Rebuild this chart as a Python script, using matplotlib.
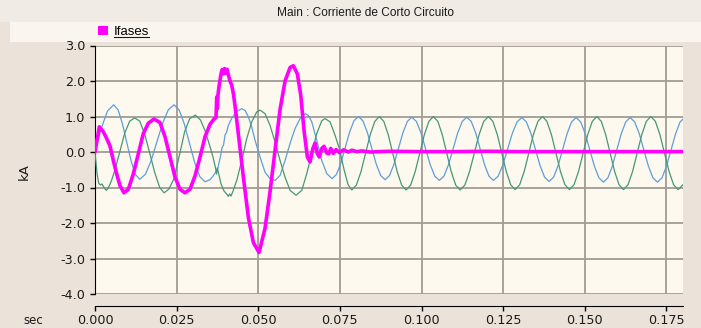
import matplotlib
matplotlib.use("Agg")
import matplotlib.pyplot as plt
from matplotlib.patches import Rectangle, Patch
from matplotlib.lines import Line2D

# ---- data -----------------------------------------------------------------
title = "Main : Corriente de Corto Circuito"
series_name = "Ifases"

x_ticks = [0.0, 0.025, 0.05, 0.075, 0.1, 0.125, 0.15, 0.175]
x_tick_labels = ["0.000", "0.025", "0.050", "0.075", "0.100", "0.125", "0.150", "0.175"]
y_ticks = [3.0, 2.0, 1.0, 0.0, -1.0, -2.0, -3.0, -4.0]
y_tick_labels = ["3.0", "2.0", "1.0", "0.0", "-1.0", "-2.0", "-3.0", "-4.0"]

# fault current (kA)
t_ifases = [0.0, 0.00132, 0.00254, 0.00358, 0.0046, 0.00561, 0.00665, 0.00766, 0.00888, 0.0102,
            0.01173, 0.01327, 0.0148, 0.01633, 0.01808, 0.01991, 0.02145, 0.02298, 0.02451, 0.02604,
            0.02757, 0.0291, 0.03064, 0.03217, 0.0337, 0.03523, 0.03646, 0.03707, 0.03728, 0.03747,
            0.03768, 0.03799, 0.0386, 0.03891, 0.03937, 0.03967, 0.04013, 0.04044, 0.0409, 0.04136,
            0.04188, 0.04237, 0.04289, 0.04366, 0.04442, 0.04543, 0.04697, 0.0485, 0.05024, 0.05208,
            0.05361, 0.05515, 0.05668, 0.05821, 0.05974, 0.06075, 0.06198, 0.06302, 0.06403, 0.06504,
            0.06587, 0.0667, 0.0674, 0.06811, 0.06872, 0.06945, 0.07016, 0.07099, 0.0716, 0.07221,
            0.07301, 0.07384, 0.07485, 0.07607, 0.07761, 0.07865, 0.08018, 0.08171, 0.08425, 0.09,
            0.1, 0.11, 0.12, 0.13, 0.14, 0.15, 0.16, 0.17, 0.18]
i_ifases = [0.0, 0.71, 0.57, 0.38, 0.17, -0.24, -0.62, -0.95, -1.15, -1.05,
            -0.62, -0.05, 0.52, 0.81, 0.93, 0.83, 0.43, -0.14, -0.71, -1.05,
            -1.15, -1.05, -0.67, -0.14, 0.43, 0.78, 0.93, 0.97, 1.55, 1.22,
            1.62, 1.85, 2.2, 2.32, 2.2, 2.35, 2.22, 2.33, 2.15, 2.0,
            1.88, 1.65, 1.3, 0.7, 0.1, -0.7, -1.84, -2.55, -2.83, -2.15,
            -1.12, 0.05, 1.2, 2.0, 2.38, 2.43, 2.2, 1.6, 0.6, -0.14,
            -0.28, 0.09, 0.25, -0.05, -0.14, 0.1, 0.16, -0.03, -0.05, 0.1,
            -0.04, 0.07, -0.02, 0.06, 0.0, 0.05, 0.01, 0.03, 0.0, 0.02,
            0.01, 0.01, 0.02, 0.01, 0.01, 0.01, 0.01, 0.01, 0.01]

# phase current, blue trace (kA)
t_blue = [0.0, 0.00191, 0.00382, 0.00573, 0.00706, 0.00838, 0.00971, 0.01104, 0.01236, 0.01369,
          0.01544, 0.01719, 0.01895, 0.0207, 0.02245, 0.0242, 0.02578, 0.02737, 0.02895, 0.03053,
          0.03212, 0.0337, 0.03523, 0.03615, 0.03707, 0.03753, 0.03799, 0.03845, 0.03891, 0.03937,
          0.03983, 0.04029, 0.04084, 0.04136, 0.04188, 0.04243, 0.04289, 0.0439, 0.04494, 0.04596,
          0.04697, 0.04801, 0.04902, 0.05055, 0.05208, 0.05361, 0.05515, 0.05668, 0.05821, 0.05974,
          0.06127, 0.06281, 0.06434, 0.06535, 0.06639, 0.06792, 0.06945, 0.07099, 0.07261,
          0.07395, 0.0753, 0.07664, 0.07798, 0.07933, 0.08067,
          0.08203, 0.0834, 0.08476, 0.08612, 0.08749, 0.08885,
          0.09021, 0.09158, 0.09294, 0.0943, 0.09567, 0.09703,
          0.09844, 0.09985, 0.10126, 0.10266, 0.10407, 0.10548,
          0.10688, 0.10828, 0.10968, 0.11108, 0.11248, 0.11388,
          0.11524, 0.1166, 0.11796, 0.11931, 0.12067, 0.12203,
          0.12348, 0.12493, 0.12638, 0.12783, 0.12928, 0.13073,
          0.13212, 0.13352, 0.13491, 0.1363, 0.1377, 0.13909,
          0.14047, 0.14185, 0.14323, 0.1446, 0.14598, 0.14736,
          0.14876, 0.15015, 0.15155, 0.15294, 0.15434, 0.15573,
          0.15709, 0.15846, 0.15982, 0.16118, 0.16255, 0.16391,
          0.1653, 0.1667, 0.16809, 0.16948, 0.17088, 0.17227,
          0.17366, 0.17505, 0.17644, 0.17782, 0.17921, 0.1806]
i_blue = [0.0, 0.665, 1.152, 1.33, 1.189, 0.805, 0.28, -0.245, -0.629, -0.77,
          -0.629, -0.245, 0.28, 0.805, 1.189, 1.33, 1.185, 0.787, 0.245, -0.298,
          -0.695, -0.84, -0.78, -0.68, -0.55, -0.5, -0.3, -0.12, 0.12, 0.2,
          0.48, 0.55, 0.75, 0.85, 0.95, 1.02, 1.1, 1.17, 1.22, 1.17,
          0.99, 0.7, 0.33, -0.14, -0.57, -0.75, -0.8, -0.66, -0.24, 0.24,
          0.66, 0.94, 1.08, 1.03, 0.85, 0.33, -0.24, -0.61, -0.75,
          -0.633, -0.3125, 0.125, 0.5625, 0.883, 1.0,
          0.881, 0.555, 0.11, -0.335, -0.661, -0.78,
          -0.662, -0.34, 0.1, 0.54, 0.862, 0.98,
          0.861, 0.535, 0.09, -0.355, -0.681, -0.8,
          -0.681, -0.355, 0.09, 0.535, 0.861, 0.98,
          0.861, 0.535, 0.09, -0.355, -0.681, -0.8,
          -0.681, -0.3575, 0.085, 0.5275, 0.851, 0.97,
          0.849, 0.52, 0.07, -0.38, -0.709, -0.83,
          -0.709, -0.38, 0.07, 0.52, 0.849, 0.97,
          0.848, 0.515, 0.06, -0.395, -0.728, -0.85,
          -0.728, -0.395, 0.06, 0.515, 0.848, 0.97,
          0.848, 0.515, 0.06, -0.395, -0.728, -0.85,
          -0.728, -0.395, 0.06, 0.515, 0.848, 0.97]

# phase current, green trace (kA)
t_green = [0.0, 0.00061, 0.00113, 0.00169, 0.00214, 0.00276, 0.00346, 0.00398, 0.00499, 0.00604,
           0.00757, 0.0091, 0.01063, 0.01216, 0.0137, 0.01523, 0.01676, 0.01829, 0.01982, 0.02114,
           0.02258, 0.0242, 0.02595, 0.02748, 0.02901, 0.03073, 0.03232, 0.0337, 0.03523, 0.03615,
           0.03692, 0.03722, 0.03747, 0.03784, 0.0386, 0.03952, 0.04029, 0.04084, 0.04121, 0.04167,
           0.04228, 0.04341, 0.04494, 0.04648, 0.04801, 0.04954, 0.05055, 0.05208, 0.05361, 0.05515,
           0.05668, 0.05821, 0.05974, 0.06158, 0.06333, 0.06486, 0.06639, 0.06792, 0.06945, 0.07047,
           0.072, 0.07353, 0.07485, 0.07629, 0.07751, 0.07865,
           0.08006, 0.08147, 0.08288, 0.08428, 0.08569, 0.0871,
           0.08846, 0.08983, 0.09119, 0.09255, 0.09392, 0.09528,
           0.09668, 0.09807, 0.09947, 0.10086, 0.10226, 0.10365,
           0.10501, 0.10638, 0.10774, 0.1091, 0.11047, 0.11183,
           0.11328, 0.11472, 0.11617, 0.11761, 0.11906, 0.1205,
           0.12186, 0.12323, 0.12459, 0.12595, 0.12732, 0.12868,
           0.13007, 0.13147, 0.13286, 0.13425, 0.13565, 0.13704,
           0.13842, 0.1398, 0.14118, 0.14255, 0.14393, 0.14531,
           0.14671, 0.14811, 0.14951, 0.1509, 0.1523, 0.1537,
           0.15506, 0.15642, 0.15778, 0.15914, 0.1605, 0.16186,
           0.16326, 0.16466, 0.16606, 0.16745, 0.16885, 0.17025,
           0.17164, 0.17303, 0.17443, 0.17582, 0.17721, 0.1786, 0.18]
i_green = [0.0, -0.6, -0.88, -0.93, -0.9, -1.0, -1.08, -1.03, -0.82, -0.53,
           0.0, 0.53, 0.87, 0.96, 0.87, 0.5, -0.03, -0.58, -1.0, -1.15,
           -1.05, -0.75, -0.05, 0.58, 0.94, 1.04, 0.9, 0.6, 0.15, -0.15,
           -0.45, -0.62, -0.45, -0.6, -0.9, -1.1, -1.18, -1.25, -1.18, -1.24,
           -1.1, -0.8, -0.24, 0.38, 0.85, 1.13, 1.18, 1.08, 0.75, 0.28,
           -0.24, -0.71, -1.08, -1.22, -1.08, -0.61, -0.05, 0.52, 0.88, 0.94,
           0.85, 0.47, 0.09, -0.5, -0.92, -1.07,
           -0.931, -0.5525, -0.035, 0.4825, 0.861, 1.0,
           0.861, 0.4825, -0.035, -0.5525, -0.931, -1.07,
           -0.931, -0.5525, -0.035, 0.4825, 0.861, 1.0,
           0.861, 0.4825, -0.035, -0.5525, -0.931, -1.07,
           -0.931, -0.5525, -0.035, 0.4825, 0.861, 1.0,
           0.862, 0.485, -0.03, -0.545, -0.922, -1.06,
           -0.922, -0.545, -0.03, 0.485, 0.862, 1.0,
           0.862, 0.485, -0.03, -0.545, -0.922, -1.06,
           -0.922, -0.545, -0.03, 0.485, 0.862, 1.0,
           0.862, 0.485, -0.03, -0.545, -0.922, -1.06,
           -0.922, -0.545, -0.03, 0.485, 0.862, 1.0,
           0.862, 0.485, -0.03, -0.545, -0.922, -1.06, -0.93]

# ---- figure ---------------------------------------------------------------
W, H = 701, 328
BG = "#ebe3d9"
fig = plt.figure(figsize=(W / 100, H / 100), dpi=100, facecolor=BG)

# window header band and legend strip (kept behind the axes)
fig.patches.append(Rectangle((0, 1 - 22 / H), 1, 22 / H, transform=fig.transFigure,
                             facecolor="#f0ebe5", edgecolor="none", zorder=-2))
fig.patches.append(Rectangle((10 / W, 1 - 42 / H), 1, 20 / H, transform=fig.transFigure,
                             facecolor="#faf6ef", edgecolor="none", zorder=-2))

ax = fig.add_axes([95 / W, 1 - 294 / H, 587.7 / W, (294 - 45.5) / H])
ax.set_facecolor("#fdf9ee")

ax.plot(t_blue, i_blue, color="#5f9ddb", lw=0.9, zorder=3)
ax.plot(t_green, i_green, color="#46977a", lw=0.9, zorder=3)
ax.plot(t_ifases, i_ifases, color="#ff00ff", lw=2.6, zorder=4,
        solid_joinstyle="round", solid_capstyle="round")

ax.set_xlim(0, 0.18)
ax.set_ylim(-4.0, 3.0)
ax.set_xticks(x_ticks)
ax.set_xticklabels(x_tick_labels)
ax.set_yticks(y_ticks)
ax.set_yticklabels(y_tick_labels)

ax.grid(True, color="#a19b94", lw=1.3)
ax.set_axisbelow(True)

for side in ("top", "right"):
    ax.spines[side].set_visible(False)
ax.spines["bottom"].set_position(("outward", 8.6))
ax.spines["left"].set_color("black")
ax.spines["bottom"].set_color("black")
ax.tick_params(axis="both", direction="out", length=3.6, width=1.0, colors="black",
               labelsize=9.2)
ax.tick_params(axis="y", pad=3.5)
ax.tick_params(axis="x", pad=2.5)
for lab in ax.get_xticklabels() + ax.get_yticklabels():
    lab.set_color("#1a1a1a")

narrow = ["Liberation Sans", "DejaVu Sans"]
fig.text(366 / W, 1 - 12.5 / H, title, ha="center", va="center", fontsize=8.6,
         family=narrow, color="#1a1a1a")
fig.text(24 / W, 1 - 172 / H, "kA", rotation=90, ha="center", va="center",
         fontsize=9.5, color="#1a1a1a")
fig.text(33 / W, 1 - 320 / H, "sec", ha="center", va="center", fontsize=8.5,
         color="#1a1a1a")

leg = fig.legend(handles=[Patch(facecolor="#ff00ff", edgecolor="none", label=series_name)],
                 loc="upper left", bbox_to_anchor=(97.5 / W, 1 - 26 / H),
                 bbox_transform=fig.transFigure, frameon=False, borderpad=0,
                 borderaxespad=0, handlelength=0.8, handleheight=0.6, handletextpad=0.45,
                 prop={"family": narrow, "size": 9.5})

# underline the legend entry
fig.canvas.draw()
renderer = fig.canvas.get_renderer()
txt = leg.get_texts()[0]
bb = txt.get_window_extent(renderer)
inv = fig.transFigure.inverted()
(x0, y0), (x1, _) = inv.transform([(bb.x0, bb.y0 + 1.0), (bb.x1, bb.y0)])
fig.add_artist(Line2D([x0, x1], [y0, y0], transform=fig.transFigure,
                      color="#1a1a1a", lw=0.8))

fig.savefig("out.png", dpi=100, facecolor=BG)
